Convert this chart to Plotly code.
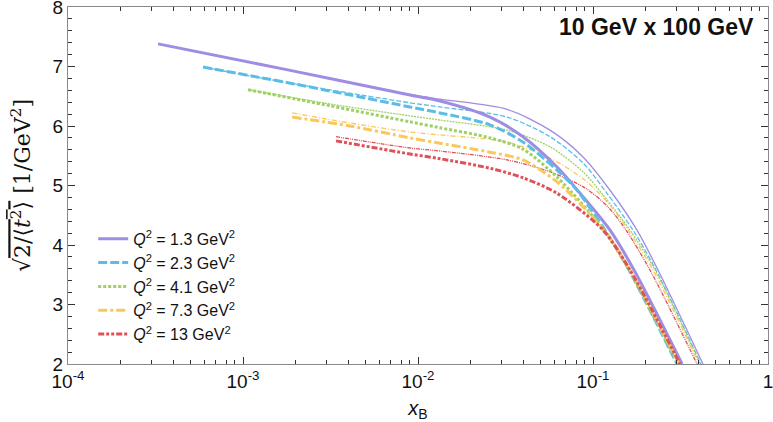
import plotly.graph_objects as go

# Q^2 values and colours
q2_labels = ["1.3", "2.3", "4.1", "7.3", "13"]
colors = ["#9f8de3", "#5bbde6", "#9fd065", "#f9c85a", "#df5158"]

# thick curves
thick_x = [
    [0.000327, 0.00169, 0.0090, 0.01336, 0.0258, 0.0398, 0.0623, 0.0843, 0.1251, 0.1715, 0.323],
    [0.000591, 0.00186, 0.0090, 0.01336, 0.0258, 0.0398, 0.0623, 0.0810, 0.1171, 0.1606, 0.302],
    [0.00107, 0.00314, 0.0090, 0.01336, 0.0258, 0.0398, 0.0623, 0.1156, 0.1606, 0.306],
    [0.00191, 0.00409, 0.0090, 0.01336, 0.0258, 0.0398, 0.0623, 0.1156, 0.1627, 0.310],
    [0.00340, 0.0090, 0.01336, 0.0258, 0.0398, 0.0623, 0.1141, 0.1627, 0.314],
]
thick_y = [
    [7.38, 6.96, 6.52, 6.42, 6.15, 5.82, 5.31, 4.87, 4.25, 3.58, 2.0],
    [6.99, 6.72, 6.32, 6.22, 6.02, 5.73, 5.26, 4.92, 4.25, 3.58, 2.0],
    [6.61, 6.34, 6.07, 5.97, 5.80, 5.61, 5.14, 4.25, 3.58, 2.0],
    [6.15, 6.00, 5.80, 5.71, 5.56, 5.43, 5.06, 4.25, 3.58, 2.0],
    [5.75, 5.53, 5.45, 5.29, 5.13, 4.87, 4.25, 3.58, 2.0],
]

# thin curves
thin_x = [
    [0.000327, 0.00169, 0.0090, 0.01336, 0.0323, 0.0568, 0.0877, 0.1251, 0.1784, 0.2352, 0.425],
    [0.000591, 0.00186, 0.0090, 0.01336, 0.0323, 0.0568, 0.0877, 0.1187, 0.1693, 0.2291, 0.414],
    [0.00107, 0.00314, 0.0090, 0.01336, 0.0323, 0.0568, 0.0877, 0.1141, 0.1627, 0.2262, 0.409],
    [0.00191, 0.00409, 0.0090, 0.01336, 0.0323, 0.0568, 0.0900, 0.1251, 0.1585, 0.2203, 0.403],
    [0.00340, 0.0090, 0.01336, 0.0323, 0.0568, 0.0900, 0.1218, 0.1544, 0.2117, 0.393],
]
thin_y = [
    [7.38, 6.96, 6.53, 6.45, 6.28, 5.93, 5.48, 4.92, 4.25, 3.58, 2.0],
    [6.99, 6.72, 6.39, 6.32, 6.15, 5.82, 5.38, 4.89, 4.25, 3.58, 2.0],
    [6.61, 6.37, 6.17, 6.10, 5.93, 5.65, 5.23, 4.84, 4.25, 3.58, 2.0],
    [6.22, 6.05, 5.90, 5.85, 5.73, 5.46, 5.09, 4.67, 4.25, 3.58, 2.0],
    [5.82, 5.63, 5.58, 5.43, 5.23, 4.96, 4.64, 4.25, 3.58, 2.0],
]

x_tickvals = [1e-4, 1e-3, 1e-2, 1e-1, 1]
x_ticktext = ["10<sup>-4</sup>", "10<sup>-3</sup>", "10<sup>-2</sup>", "10<sup>-1</sup>", "1"]

thick_dash = ["solid", "9px,3px", "3px,2px", "9px,3px,3px,3px", "6px,2px,3px,2px,3px,2px"]
thin_dash = ["solid", "5px,2px", "2px,1px", "5px,2px,1px,2px", "4px,1px,1px,1px,1px,1px"]

fig = go.Figure()

for i, q in enumerate(q2_labels):
    fig.add_trace(go.Scatter(
        x=thin_x[i], y=thin_y[i], mode="lines",
        line=dict(color=colors[i], width=1.3, dash=thin_dash[i], shape="spline", smoothing=0.8),
        showlegend=False, hoverinfo="skip",
    ))
for i, q in enumerate(q2_labels):
    fig.add_trace(go.Scatter(
        x=thick_x[i], y=thick_y[i], mode="lines",
        line=dict(color=colors[i], width=3, dash=thick_dash[i], shape="spline", smoothing=0.8),
        name=f"<i>Q</i><sup>2</sup> = {q} GeV<sup>2</sup>",
    ))

axis_common = dict(
    showline=True, linecolor="#8a8a8a", linewidth=1.2, mirror="allticks",
    ticks="inside", tickcolor="#333", ticklen=7, showgrid=False, zeroline=False,
    automargin=False, ticklabeloverflow="allow",
    tickfont=dict(family="Liberation Sans", size=19, color="#111"),
)

fig.update_xaxes(
    type="log", range=[-4, 0], tickvals=x_tickvals, ticktext=x_ticktext,
    minor=dict(ticks="inside", ticklen=4, tickcolor="#333", dtick="D1"),
    title=dict(text="<i>x</i><sub>B</sub>", font=dict(family="Liberation Sans", size=20, color="#111")),
    **axis_common,
)
fig.update_yaxes(
    range=[2, 8], dtick=1,
    minor=dict(ticks="inside", ticklen=4, tickcolor="#333", dtick=0.2),
    title=dict(
        text="√<span style='text-decoration:overline'>2/⟨<i>t</i><sup>2</sup>⟩</span> [1/GeV<sup>2</sup>]",
        font=dict(family="DejaVu Serif", size=22, color="#111"),
    ),
    **axis_common,
)

fig.add_annotation(
    text="<b>10 GeV x 100 GeV</b>", xref="paper", yref="paper", x=0.983, y=0.943,
    xanchor="right", yanchor="middle", showarrow=False,
    font=dict(family="Liberation Sans", size=23, color="#111"),
)

fig.update_layout(
    width=773, height=422,
    margin=dict(l=68, r=5, t=7, b=58),
    plot_bgcolor="white", paper_bgcolor="white",
    legend=dict(
        x=0.036, y=0.398, xanchor="left", yanchor="top",
        bgcolor="rgba(0,0,0,0)", font=dict(family="Liberation Sans", size=16, color="#111"),
        tracegroupgap=0, itemwidth=30,
    ),
)

# drop the default page margin so the figure sits at the window's corner
fig.write_html("out.html", config={"displayModeBar": False},
               post_script="document.body.style.margin='0';")
